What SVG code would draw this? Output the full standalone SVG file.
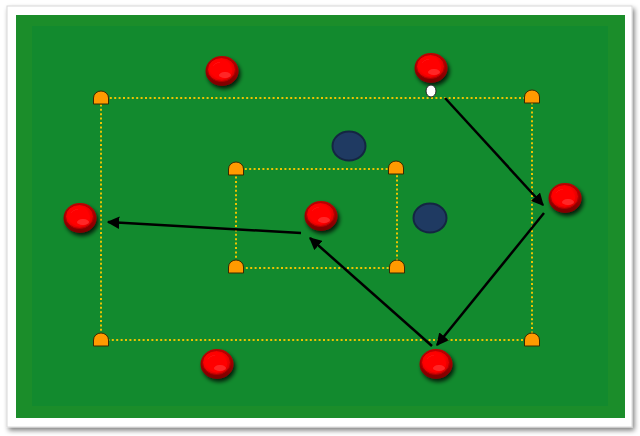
<svg xmlns="http://www.w3.org/2000/svg" width="640" height="436" viewBox="0 0 640 436">
<defs>
<style>
.line{fill:none;stroke:#ecc400;stroke-width:2;stroke-dasharray:2 2.4}
.cone{fill:#ff9a00;stroke:#3a2a00;stroke-width:1}
.arrow{fill:none;stroke:#000;stroke-width:2.5;marker-end:url(#ah)}
.blue{fill:#1f3a62;stroke:#142642;stroke-width:2}
</style>
<radialGradient id="red" cx="0.45" cy="0.45" r="0.6">
<stop offset="0" stop-color="#ff1a1a"/>
<stop offset="0.6" stop-color="#ff0000"/>
<stop offset="1" stop-color="#d00000"/>
</radialGradient>
<linearGradient id="rim" x1="0" y1="0" x2="0" y2="1">
<stop offset="0" stop-color="#c00000"/>
<stop offset="1" stop-color="#7a0000"/>
</linearGradient>
<filter id="sh" x="-50%" y="-50%" width="200%" height="200%">
<feGaussianBlur in="SourceAlpha" stdDeviation="2"/>
<feOffset dx="2" dy="3" result="b"/>
<feComponentTransfer><feFuncA type="linear" slope="0.8"/></feComponentTransfer>
<feMerge><feMergeNode/><feMergeNode in="SourceGraphic"/></feMerge>
</filter>
<filter id="card" x="-5%" y="-5%" width="110%" height="110%">
<feGaussianBlur in="SourceAlpha" stdDeviation="2.5"/>
<feOffset dx="2" dy="3"/>
<feComponentTransfer><feFuncA type="linear" slope="0.5"/></feComponentTransfer>
<feMerge><feMergeNode/><feMergeNode in="SourceGraphic"/></feMerge>
</filter>
<marker id="ah" viewBox="0 0 10 10" refX="9" refY="5" markerWidth="5" markerHeight="5" orient="auto" markerUnits="strokeWidth">
<path d="M0 0 L10 5 L0 10 Z" fill="#000"/>
</marker>
<symbol id="player" overflow="visible">
<g filter="url(#sh)">
<ellipse cx="0" cy="0" rx="16.5" ry="15" fill="url(#rim)"/>
<ellipse cx="-0.5" cy="-1.5" rx="14" ry="12" fill="url(#red)" stroke="#b00000" stroke-width="1"/>
<ellipse cx="0" cy="0" rx="10" ry="8.5" fill="#ff0000"/>
<ellipse cx="3" cy="4" rx="6" ry="3" fill="#ff5050" opacity="0.5"/>
</g>
</symbol>
<path id="c" class="cone" d="M-7.5 6 L-7.5 0 A7.5 7 0 0 1 7.5 0 L7.5 6 Z"/>
</defs>
<rect width="640" height="436" fill="#ffffff"/>
<rect x="7" y="6" width="625" height="421" fill="#ffffff" stroke="#d8d8d8" stroke-width="1" filter="url(#card)"/>
<rect x="16" y="15" width="609" height="403" fill="#1b8d2a"/>
<rect x="32" y="26" width="576" height="380" fill="#128a2e"/>

<g id="lines">
<rect class="line" x="101" y="98" width="431" height="242"/>
<rect class="line" x="236" y="169" width="161" height="99"/>
</g>

<g id="cones">
<use href="#c" x="101" y="98"/>
<use href="#c" x="532" y="97"/>
<use href="#c" x="101" y="340"/>
<use href="#c" x="532" y="340"/>
<use href="#c" x="236" y="169"/>
<use href="#c" x="396" y="168"/>
<use href="#c" x="236" y="267"/>
<use href="#c" x="397" y="267"/>
</g>

<g id="blue1"><ellipse class="blue" cx="349" cy="146" rx="16.5" ry="14.5"/></g>
<g id="blue2"><ellipse class="blue" cx="430" cy="218" rx="16.5" ry="14.5"/></g>

<g id="p1"><use href="#player" x="222" y="71"/></g>
<g id="p2"><use href="#player" x="431" y="68"/></g>
<g id="p3"><use href="#player" x="80" y="218"/></g>
<g id="p4"><use href="#player" x="321" y="216"/></g>
<g id="p5"><use href="#player" x="565" y="198"/></g>
<g id="p6"><use href="#player" x="217" y="364"/></g>
<g id="p7"><use href="#player" x="436" y="364"/></g>

<g id="ball"><ellipse cx="431" cy="91" rx="5" ry="6" fill="#ffffff" stroke="#222" stroke-width="1"/></g>

<g id="connectors">
<line class="arrow" x1="445" y1="98" x2="543" y2="205"/>
<line class="arrow" x1="544" y1="213" x2="437" y2="345"/>
<line class="arrow" x1="432" y1="346" x2="310" y2="238"/>
<line class="arrow" x1="301" y1="233" x2="108" y2="222"/>
</g>
</svg>
